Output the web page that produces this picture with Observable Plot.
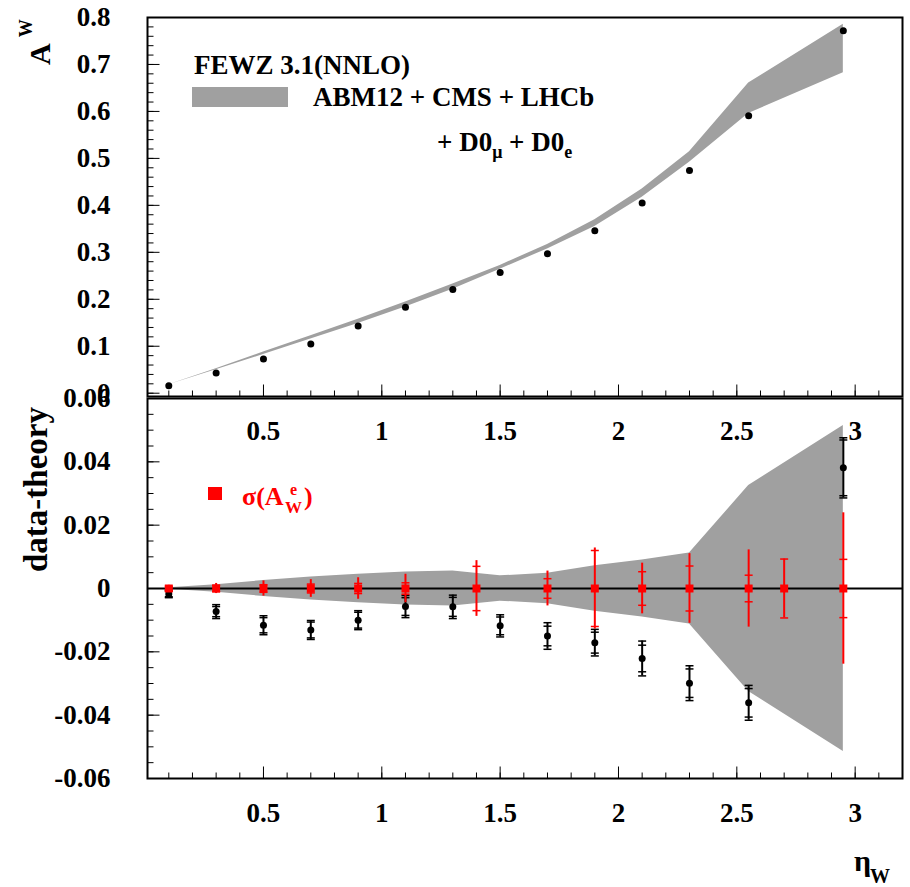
<!DOCTYPE html>
<html>
<head>
<meta charset="utf-8">
<script src="https://cdn.jsdelivr.net/npm/d3@7"></script>
<script src="https://cdn.jsdelivr.net/npm/@observablehq/plot@0.6"></script>
<style>
  html, body { margin: 0; padding: 0; background: #fff; }
  #chart { position: relative; width: 910px; height: 887px; }
  #chart > svg { position: absolute; left: 0; top: 0; }
</style>
</head>
<body>
<div id="chart"></div>
<script>
// W charge asymmetry vs W rapidity: data, FEWZ 3.1 (NNLO) prediction and uncertainty band
const etaW      = [0.1, 0.3, 0.5, 0.7, 0.9, 1.1, 1.3, 1.5, 1.7, 1.9, 2.1, 2.3, 2.55, 2.95];
const asymData  = [0.016, 0.043, 0.073, 0.105, 0.143, 0.183, 0.221, 0.257, 0.297, 0.346, 0.405, 0.474, 0.591, 0.772];
const asymTheory = [0.018, 0.051, 0.085, 0.119, 0.153, 0.189, 0.227, 0.268, 0.312, 0.362, 0.426, 0.503, 0.628, 0.734];
const theoryUnc = [0.0002, 0.0012, 0.0025, 0.0036, 0.0045, 0.0052, 0.0055, 0.0040, 0.0048, 0.0072, 0.0090, 0.0112, 0.0325, 0.0515];

// data - theory for the W asymmetry points (total and statistical errors)
const diffData  = [-0.0017, -0.0073, -0.0116, -0.0131, -0.0100, -0.0057, -0.0058, -0.0118, -0.0150, -0.0171, -0.0221, -0.0299, -0.0361, 0.0381];
const diffTot   = [0.0012, 0.0022, 0.0030, 0.0030, 0.0030, 0.0035, 0.0037, 0.0035, 0.0042, 0.0042, 0.0055, 0.0055, 0.0055, 0.0095];
const diffStat  = [0.0009, 0.0016, 0.0024, 0.0025, 0.0025, 0.0028, 0.0030, 0.0028, 0.0031, 0.0033, 0.0042, 0.0045, 0.0045, 0.0088];

// electron asymmetry uncertainties sigma(A_W^e), drawn around zero
const etaE      = [0.1, 0.3, 0.5, 0.7, 0.9, 1.1, 1.4, 1.7, 1.9, 2.1, 2.3, 2.55, 2.7, 2.95];
const sigmaE    = [0, 0, 0, 0, 0, 0, 0, 0, 0, 0, 0, 0, 0, 0];
const sigmaETot = [0.0010, 0.0016, 0.0024, 0.0028, 0.0034, 0.0045, 0.0088, 0.0055, 0.0128, 0.0080, 0.0110, 0.0122, 0.0093, 0.0239];
const sigmaEIn  = [0.0007, 0.0010, 0.0012, 0.0014, 0.0016, 0.0018, 0.0070, 0.0031, 0.0120, 0.0053, 0.0071, 0.0042, 0.0093, 0.0092];

// axis ticks
const xTickLabels  = [0.5, 1, 1.5, 2, 2.5, 3];
const xMinorTicks  = d3.range(1, 32).map(i => i / 10);
const yTopLabels   = [0, 0.1, 0.2, 0.3, 0.4, 0.5, 0.6, 0.7, 0.8];
const yTopMinor    = d3.range(0, 41).map(i => i * 0.02);
const yLowLabels   = [-0.06, -0.04, -0.02, 0, 0.02, 0.04, 0.06];
const yLowMinor    = d3.range(-12, 13).map(i => i * 0.005);

const rows = etaW.map((eta, i) => ({
  eta, asym: asymData[i], theory: asymTheory[i], unc: theoryUnc[i],
  diff: diffData[i], tot: diffTot[i], stat: diffStat[i]
}));
const eRows = etaE.map((eta, i) => ({eta, v: sigmaE[i], tot: sigmaETot[i], inner: sigmaEIn[i]}));

const bandColor = "#a0a0a0";

// symbols: inward axis ticks and horizontal error-bar end caps
const tickUp = len => ({draw(ctx) { ctx.moveTo(0, 0); ctx.lineTo(0, -len); }});
const tickRight = len => ({draw(ctx) { ctx.moveTo(0, 0); ctx.lineTo(len, 0); }});
const cap = half => ({draw(ctx) { ctx.moveTo(-half, 0); ctx.lineTo(half, 0); }});

const W = 910, H = 887;
const base = {
  width: W, height: H, marginLeft: 147, marginRight: 8,
  x: {domain: [0.01, 3.2], label: null},
  style: {background: "transparent", fontFamily: "'Liberation Serif', 'Times New Roman', serif",
          fontWeight: "bold", fontSize: "27px", overflow: "visible", color: "black"}
};

function xTicksMarks() {
  return [
    Plot.dot(xMinorTicks, {x: d => d, frameAnchor: "bottom", symbol: tickUp(6), fill: "none", stroke: "black", strokeWidth: 1}),
    Plot.dot(xTickLabels, {x: d => d, frameAnchor: "bottom", symbol: tickUp(12), fill: "none", stroke: "black", strokeWidth: 1}),
    Plot.axisX({ticks: xTickLabels, tickSize: 0, tickPadding: 24, tickFormat: d => String(d), anchor: "bottom", label: null})
  ];
}

// upper panel: asymmetry
const upperPanel = Plot.plot({
  ...base,
  marginTop: 17, marginBottom: H - 396,
  y: {domain: [-0.007, 0.8], label: null},
  marks: [
    Plot.areaY(rows, {x: "eta", y1: d => d.theory - d.unc, y2: d => d.theory + d.unc, fill: bandColor}),
    Plot.dot(rows, {x: "eta", y: "asym", r: 3.5, fill: "black"}),
    Plot.dot(yTopMinor, {y: d => d, frameAnchor: "left", symbol: tickRight(6), fill: "none", stroke: "black", strokeWidth: 1}),
    Plot.dot(yTopLabels, {y: d => d, frameAnchor: "left", symbol: tickRight(12), fill: "none", stroke: "black", strokeWidth: 1}),
    Plot.axisY({ticks: yTopLabels, tickSize: 0, tickPadding: 37, anchor: "left", label: null,
                tickFormat: d => d === 0 ? "0" : d.toFixed(1)}),
    ...xTicksMarks(),
    Plot.frame({stroke: "black", strokeWidth: 2})
  ]
});

// lower panel: data - theory
const lowerPanel = Plot.plot({
  ...base,
  marginTop: 398, marginBottom: H - 778,
  y: {domain: [-0.06, 0.06], label: null},
  marks: [
    Plot.areaY(rows, {x: "eta", y1: d => -d.unc, y2: d => d.unc, fill: bandColor}),
    Plot.ruleY([0], {stroke: "black", strokeWidth: 2}),
    Plot.ruleX(rows, {x: "eta", y1: d => d.diff - d.tot, y2: d => d.diff + d.tot, stroke: "black", strokeWidth: 2}),
    Plot.dot(rows.flatMap(d => [
      {eta: d.eta, y: d.diff - d.tot}, {eta: d.eta, y: d.diff + d.tot},
      {eta: d.eta, y: d.diff - d.stat}, {eta: d.eta, y: d.diff + d.stat}
    ]), {x: "eta", y: "y", symbol: cap(4), fill: "none", stroke: "black", strokeWidth: 1.5}),
    Plot.dot(rows, {x: "eta", y: "diff", r: 3.5, fill: "black"}),
    Plot.ruleX(eRows, {x: "eta", y1: d => d.v - d.tot, y2: d => d.v + d.tot, stroke: "red", strokeWidth: 2}),
    Plot.dot(eRows.flatMap(d => [
      {eta: d.eta, y: d.v - d.inner}, {eta: d.eta, y: d.v + d.inner}
    ]), {x: "eta", y: "y", symbol: cap(4), fill: "none", stroke: "red", strokeWidth: 1.5}),
    Plot.dot(eRows, {x: "eta", y: "v", symbol: "square", r: 4.5, fill: "red"}),
    Plot.dot(yLowMinor, {y: d => d, frameAnchor: "left", symbol: tickRight(6), fill: "none", stroke: "black", strokeWidth: 1}),
    Plot.dot(yLowLabels, {y: d => d, frameAnchor: "left", symbol: tickRight(12), fill: "none", stroke: "black", strokeWidth: 1}),
    Plot.axisY({ticks: yLowLabels, tickSize: 0, tickPadding: 37, anchor: "left", label: null,
                tickFormat: d => d === 0 ? "0" : d.toFixed(2)}),
    ...xTicksMarks(),
    Plot.frame({stroke: "black", strokeWidth: 2})
  ]
});

const chart = document.getElementById("chart");
chart.append(upperPanel, lowerPanel);

// legends and axis titles
const notes = `
<svg xmlns="http://www.w3.org/2000/svg" width="910" height="887" style="font-family:'Liberation Serif','Times New Roman',serif;font-weight:bold;pointer-events:none">
  <text x="194" y="74" font-size="27">FEWZ 3.1(NNLO)</text>
  <rect x="192" y="87" width="96" height="20" fill="${bandColor}"/>
  <text x="313" y="106" font-size="27">ABM12 + CMS + LHCb</text>
  <text x="437" y="151" font-size="27">+ D0<tspan font-size="18" dy="7">μ</tspan><tspan dy="-7"> + D0</tspan><tspan font-size="18" dy="7">e</tspan></text>
  <text transform="translate(50,65) rotate(-90)" font-size="30">A<tspan font-size="18" dx="6" dy="-18">W</tspan></text>
  <text transform="translate(47,572) rotate(-90)" font-size="33">data-theory</text>
  <rect x="208" y="487" width="14" height="13" fill="red"/>
  <g fill="red">
    <text x="242" y="505" font-size="26">σ(A</text>
    <text x="290" y="495" font-size="16">e</text>
    <text x="285" y="513" font-size="17">W</text>
    <text x="304" y="505" font-size="26">)</text>
  </g>
  <text x="854" y="871" font-size="30">η</text>
  <text x="870" y="883" font-size="20">W</text>
</svg>`;
chart.insertAdjacentHTML("beforeend", notes);
</script>
</body>
</html>
